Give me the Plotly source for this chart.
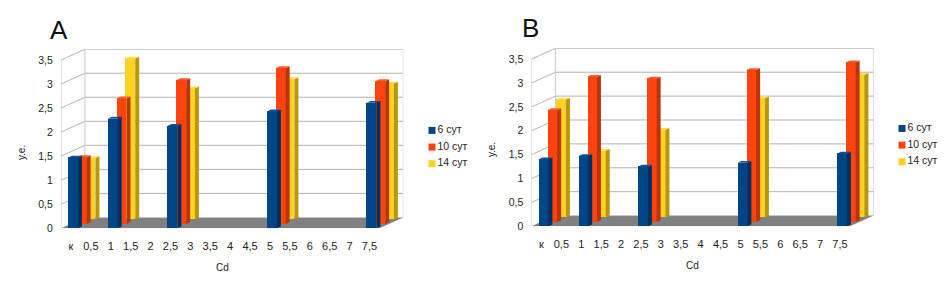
import plotly.graph_objects as go

W, H = 946, 289
categories = ["к", "0,5", "1", "1,5", "2", "2,5", "3", "3,5", "4", "4,5", "5", "5,5", "6", "6,5", "7", "7,5"]
measured = ["к", "1", "2,5", "5", "7,5"]
y_ticks = [0, 0.5, 1, 1.5, 2, 2.5, 3, 3.5]
y_labels = ["0", "0,5", "1", "1,5", "2", "2,5", "3", "3,5"]
series_names = ["6 сут", "10 сут", "14 сут"]

a_6 = [1.47, 2.28, 2.13, 2.43, 2.61]
a_10 = [1.39, 2.61, 2.99, 3.24, 2.97]
a_14 = [1.28, 3.35, 2.73, 2.92, 2.83]
b_6 = [1.40, 1.47, 1.25, 1.33, 1.52]
b_10 = [2.34, 3.04, 3.00, 3.18, 3.34]
b_14 = [2.47, 1.40, 1.84, 2.50, 2.99]

front = ["#004586", "#ff420e", "#ffd320"]
side = ["#00305e", "#b8350c", "#b8960e"]
top = ["#0a5296", "#ff5a2a", "#ffdd50"]

DX, DY = 1.2, 0.226        # depth of the chart box, in axis units
SX, SY = 0.44, 0.09        # depth step between series
BW, BO = 0.5, -0.15        # bar width and offset
FX, FY = 0.2, 0.04         # depth of one bar
PAGE_X, PAGE_Y = 8, 2      # the page shifts the figure by this much

fig = go.Figure()
axes = {}
n_axis = [0]


def poly(x, y, color, ax):
    fig.add_trace(go.Scatter(x=x + x[:1], y=y + y[:1], mode="lines", fill="toself", fillcolor=color,
                             line=dict(width=0), hoverinfo="skip", showlegend=False,
                             xaxis=ax[0], yaxis=ax[1]))


def panel(vals, px_left, px_y0, unit_x, unit_y, leg_x, leg_y):
    px_left -= PAGE_X
    px_y0 -= PAGE_Y
    leg_x -= PAGE_X
    leg_y -= PAGE_Y
    xlo, xhi = -0.5, 15.5 + DX
    ylo, yhi = 0, 3.5 + DY
    dom_x = [px_left / W, (px_left + (xhi - xlo) * unit_x) / W]
    dom_y = [1 - px_y0 / H, 1 - (px_y0 - yhi * unit_y) / H]
    n_axis[0] += 1
    base = n_axis[0]
    sfx = "" if base == 1 else str(base)
    ax = ("x" + sfx, "y" + sfx)
    axes[f"xaxis{sfx}"] = dict(domain=dom_x, range=[xlo, xhi], showgrid=False, zeroline=False, showline=False,
                               anchor=ax[1], tickmode="array", tickvals=list(range(len(categories))),
                               ticktext=categories, ticks="outside", ticklen=7, tickcolor="rgba(0,0,0,0)",
                               tickfont=dict(family="Liberation Sans", size=11, color="#222"))
    axes[f"yaxis{sfx}"] = dict(domain=dom_y, range=[ylo, yhi], showgrid=False, zeroline=False, showline=False,
                               anchor=ax[0], tickmode="array", tickvals=y_ticks, ticktext=y_labels,
                               ticks="outside", ticklen=5, tickcolor="rgba(0,0,0,0)",
                               tickfont=dict(family="Liberation Sans", size=10.5, color="#222"))
    # floor
    poly([xlo, 15.5, xhi, xlo + DX], [0, 0, DY, DY], "#808080", ax)
    # walls and grid
    for t in y_ticks[1:]:
        fig.add_trace(go.Scatter(x=[xlo, xlo + DX, xhi], y=[t, t + DY, t + DY], mode="lines",
                                 line=dict(color="#b3b3b3", width=1), hoverinfo="skip", showlegend=False,
                                 xaxis=ax[0], yaxis=ax[1]))
    fig.add_trace(go.Scatter(x=[xlo, xlo + DX, xlo + DX, xhi, xhi],
                             y=[3.5, 3.5 + DY, DY, DY, 3.5 + DY], mode="lines",
                             line=dict(color="#c8c8c8", width=1), hoverinfo="skip", showlegend=False,
                             xaxis=ax[0], yaxis=ax[1]))
    fig.add_trace(go.Scatter(x=[xlo, xlo], y=[0, 3.5], mode="lines",
                             line=dict(color="#c8c8c8", width=1), hoverinfo="skip", showlegend=False,
                             xaxis=ax[0], yaxis=ax[1]))
    fig.add_trace(go.Scatter(x=[xlo + DX, xhi], y=[3.5 + DY, 3.5 + DY], mode="lines",
                             line=dict(color="#c8c8c8", width=1), hoverinfo="skip", showlegend=False,
                             xaxis=ax[0], yaxis=ax[1]))
    # series, back to front, each on an axis pair shifted by its depth
    for s in (2, 1, 0):
        n_axis[0] += 1
        k = n_axis[0]
        a = ("x" + str(k), "y" + str(k))
        axes[f"xaxis{k}"] = dict(domain=dom_x, range=[xlo - s * SX, xhi - s * SX], overlaying=ax[0],
                                 visible=False, anchor=a[1])
        axes[f"yaxis{k}"] = dict(domain=dom_y, range=[ylo - s * SY, yhi - s * SY], overlaying=ax[1],
                                 visible=False, anchor=a[0])
        xs = [categories.index(m) for m in measured]
        fig.add_trace(go.Bar(x=xs, y=vals[s], width=BW, offset=BO, marker=dict(color=front[s], line=dict(width=0)),
                             name=series_names[s], showlegend=False, xaxis=a[0], yaxis=a[1]))
        for xi, v in zip(xs, vals[s]):
            l = xi + BO
            r = l + BW
            poly([r, r + FX, r + FX, r], [0, FY, v + FY, v], side[s], a)
            poly([l, r, r + FX, l + FX], [v, v, v + FY, v + FY], top[s], a)
    # legend: its own small axis pair, so swatch and label sit tight together
    n_axis[0] += 1
    k = n_axis[0]
    a = ("x" + str(k), "y" + str(k))
    axes[f"xaxis{k}"] = dict(domain=[leg_x / W, (leg_x + 46) / W], range=[0, 46], visible=False, anchor=a[1],
                             fixedrange=True)
    axes[f"yaxis{k}"] = dict(domain=[1 - (leg_y + 51) / H, 1 - leg_y / H], range=[3, 0], visible=False, anchor=a[0],
                             fixedrange=True)
    for s in range(3):
        fig.add_trace(go.Scatter(x=[3], y=[s + 0.5], mode="markers+text", text=[series_names[s]],
                                 textposition="middle right", name=series_names[s], showlegend=False,
                                 cliponaxis=False,
                                 textfont=dict(family="Liberation Sans", size=10.5, color="#222"),
                                 marker=dict(symbol="square", size=7, color=front[s]),
                                 xaxis=a[0], yaxis=a[1]))


panel([a_6, a_10, a_14], 61, 227, 19.9, 49.1, 429, 118.5)
panel([b_6, b_10, b_14], 531.5, 225, 19.9, 48.8, 899, 116.5)


def note(text, x, y, size, angle=0, color="#222"):
    return dict(text=text, xref="paper", yref="paper", x=(x - PAGE_X) / W, y=1 - y / H, showarrow=False,
                textangle=angle, xanchor="center", yanchor="middle",
                font=dict(family="Liberation Sans", size=size, color=color))


fig.update_layout(
    width=W, height=H, margin=dict(l=0, r=0, t=0, b=0), autosize=False,
    paper_bgcolor="white", plot_bgcolor="white", bargap=0, barmode="overlay", showlegend=False,
    annotations=[
        note("A", 59, 22, 26, color="#111"), note("B", 530, 20, 26, color="#111"),
        note("у.е.", 22, 148, 10, -90), note("у.е.", 492, 145, 10, -90),
        note("Cd", 222, 265, 10), note("Cd", 692, 263, 10),
    ],
    **axes,
)
fig.write_html("out.html")
